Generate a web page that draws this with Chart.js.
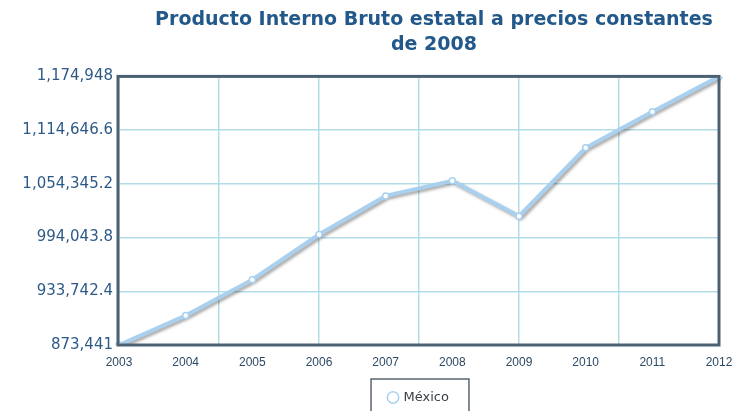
<!DOCTYPE html>
<html>
<head>
<meta charset="utf-8">
<script src="https://cdn.jsdelivr.net/npm/chart.js@4/dist/chart.umd.min.js"></script>
<style>
  body { margin: 0; background: #fff; }
  #wrap { width: 738px; height: 411px; }
</style>
</head>
<body>
<div id="wrap"><canvas id="pib" width="738" height="411"></canvas></div>
<script>
const years = ['2003', '2004', '2005', '2006', '2007', '2008', '2009', '2010', '2011', '2012'];
const mexico = [873441, 906600, 946800, 997400, 1040800, 1057700, 1018000, 1094800, 1135300, 1174948];
const yTicks = [873441, 933742.4, 994043.8, 1054345.2, 1114646.6, 1174948];
const titleLines = ['Producto Interno Bruto estatal a precios constantes', 'de 2008'];

const gridBlue = '#b3dde6';
const frameColor = '#4b6172';
const lineBlue = '#a9d1ef';

// frame around plot area + box around the legend
const framePlugin = {
  id: 'frame',
  afterLayout(chart) {
    // title sits a bit right of the plot centre
    chart.titleBlock.left += 15;
    chart.titleBlock.right += 15;
  },
  afterDraw(chart) {
    const { ctx, chartArea: a } = chart;
    ctx.save();
    ctx.strokeStyle = frameColor;
    ctx.lineWidth = 3;
    ctx.strokeRect(a.left - 1, a.top, a.right - a.left + 1, a.bottom - a.top);
    const hb = chart.legend.legendHitBoxes[0];
    if (hb) {
      ctx.lineWidth = 1.5;
      ctx.strokeStyle = '#5a6470';
      ctx.strokeRect(hb.left - 18, hb.top - 12, hb.width + 38, 60);
    }
    ctx.restore();
  },
};

// shadow under the line only (dataset 1)
const shadowPlugin = {
  id: 'lineShadow',
  beforeDatasetDraw(chart, args) {
    if (args.index !== 1) return;
    const ctx = chart.ctx;
    ctx.save();
    ctx.shadowColor = 'rgba(0,0,0,0.35)';
    ctx.shadowOffsetX = 2;
    ctx.shadowOffsetY = 2;
    ctx.shadowBlur = 3;
  },
  afterDatasetDraw(chart, args) {
    if (args.index !== 1) return;
    chart.ctx.restore();
  },
};

new Chart(document.getElementById('pib'), {
  type: 'line',
  data: {
    labels: years,
    datasets: [
      {
        label: 'México',
        data: mexico,
        showLine: false,
        borderColor: lineBlue,
        backgroundColor: '#fff',
        pointRadius: 3,
        pointBackgroundColor: '#fff',
        pointBorderColor: lineBlue,
        pointBorderWidth: 1.5,
      },
      {
        label: 'México',
        data: mexico,
        borderColor: lineBlue,
        borderWidth: 4,
        tension: 0,
        pointRadius: 0,
      },
    ],
  },
  options: {
    responsive: false,
    animation: false,
    layout: { padding: { left: 0, right: 19, top: 6, bottom: -3 } },
    plugins: {
      title: {
        display: true,
        text: titleLines,
        fullSize: false,
        color: '#22588a',
        font: { family: 'DejaVu Sans', size: 19, weight: 'bold', lineHeight: 1.3 },
        padding: { top: 2, bottom: 19 },
      },
      legend: {
        position: 'bottom',
        fullSize: false,
        labels: {
          usePointStyle: true,
          pointStyle: 'circle',
          boxWidth: 8,
          boxHeight: 8,
          color: '#3a4048',
          font: { family: 'DejaVu Sans', size: 13 },
          padding: 8,
          filter: (item) => item.datasetIndex === 0,
        },
      },
      tooltip: { enabled: false },
    },
    scales: {
      x: {
        type: 'category',
        offset: false,
        grid: { display: false },
        border: { display: false },
        ticks: {
          color: '#2c4964',
          font: { family: 'Liberation Sans', size: 12 },
          padding: 2,
          maxRotation: 0,
          autoSkip: false,
        },
        afterFit(scale) { scale.height = 38; },
      },
      xGrid: {
        type: 'linear',
        position: 'bottom',
        min: 0,
        max: 6,
        ticks: { display: false, stepSize: 1 },
        grid: { color: gridBlue, lineWidth: 1.5, drawTicks: false },
        border: { display: false },
        afterFit(scale) { scale.height = 0; },
      },
      y: {
        min: yTicks[0],
        max: yTicks[yTicks.length - 1],
        grid: { color: gridBlue, lineWidth: 1.5, drawTicks: false },
        border: { display: false },
        afterBuildTicks(scale) {
          scale.ticks = yTicks.map((v) => ({ value: v }));
        },
        afterFit(scale) { scale.width = 119; },
        ticks: {
          color: '#2e5a88',
          font: { family: 'DejaVu Sans', size: 15 },
          padding: 6,
          callback: (v) => v.toLocaleString('en-US', { maximumFractionDigits: 1 }),
        },
      },
    },
  },
  plugins: [shadowPlugin, framePlugin],
});
</script>
</body>
</html>
